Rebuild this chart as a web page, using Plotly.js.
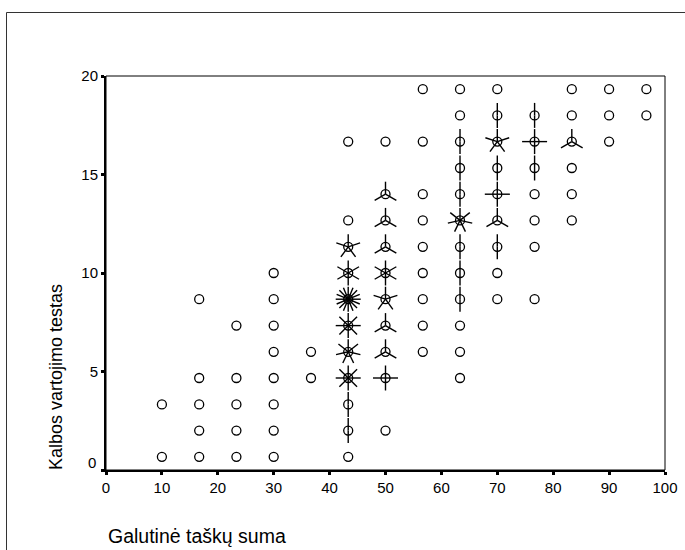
<!DOCTYPE html>
<html>
<head>
<meta charset="utf-8">
<script src="https://cdn.plot.ly/plotly-3.0.1.min.js"></script>
<style>html,body{margin:0;padding:0;background:#fff;}#chart{width:685px;height:550px;}</style>
</head>
<body>
<div id="chart"></div>
<script>
// Sunflower plot data: bin centres and number of observations in each bin
const pointX = [
  10, 10,
  16.67, 16.67, 16.67, 16.67, 16.67,
  23.33, 23.33, 23.33, 23.33, 23.33,
  30, 30, 30, 30, 30, 30, 30, 30,
  36.67, 36.67,
  43.33, 43.33, 43.33, 43.33, 43.33, 43.33, 43.33, 43.33, 43.33, 43.33, 43.33,
  50, 50, 50, 50, 50, 50, 50, 50, 50, 50,
  56.67, 56.67, 56.67, 56.67, 56.67, 56.67, 56.67, 56.67, 56.67,
  63.33, 63.33, 63.33, 63.33, 63.33, 63.33, 63.33, 63.33, 63.33, 63.33, 63.33, 63.33,
  70, 70, 70, 70, 70, 70, 70, 70, 70,
  76.67, 76.67, 76.67, 76.67, 76.67, 76.67, 76.67,
  83.33, 83.33, 83.33, 83.33, 83.33, 83.33,
  90, 90, 90,
  96.67, 96.67
];
const pointY = [
  0.67, 3.33,
  0.67, 2, 3.33, 4.67, 8.67,
  0.67, 2, 3.33, 4.67, 7.33,
  0.67, 2, 3.33, 4.67, 6, 7.33, 8.67, 10,
  4.67, 6,
  0.67, 2, 3.33, 4.67, 6, 7.33, 8.67, 10, 11.33, 12.67, 16.67,
  2, 4.67, 6, 7.33, 8.67, 10, 11.33, 12.67, 14, 16.67,
  6, 7.33, 8.67, 10, 11.33, 12.67, 14, 16.67, 19.33,
  4.67, 6, 7.33, 8.67, 10, 11.33, 12.67, 14, 15.33, 16.67, 18, 19.33,
  8.67, 10, 11.33, 12.67, 14, 15.33, 16.67, 18, 19.33,
  8.67, 11.33, 12.67, 14, 15.33, 16.67, 18,
  12.67, 14, 15.33, 16.67, 18, 19.33,
  16.67, 18, 19.33,
  18, 19.33
];
const pointCount = [
  1, 1,
  1, 1, 1, 1, 1,
  1, 1, 1, 1, 1,
  1, 1, 1, 1, 1, 1, 1, 1,
  1, 1,
  1, 2, 2, 8, 7, 8, 16, 6, 5, 1, 1,
  1, 4, 3, 3, 5, 6, 3, 3, 3, 1,
  1, 1, 1, 1, 1, 1, 1, 1, 1,
  1, 1, 1, 2, 2, 2, 7, 2, 2, 2, 1, 1,
  1, 1, 2, 3, 4, 2, 5, 2, 1,
  1, 1, 1, 1, 2, 4, 2,
  1, 1, 1, 3, 1, 1,
  1, 1, 1,
  1, 1
];
const xTickVals = [0, 10, 20, 30, 40, 50, 60, 70, 80, 90, 100];
const yTickVals = [0, 5, 10, 15, 20];
const yTickText = ['', '5', '10', '15', '20'];
const yZeroLabel = '0';
const xTitle = 'Galutinė taškų suma';
const yTitle = 'Kalbos vartojimo testas';

// layout geometry (style)
const W = 685, H = 550;
const M = {l: 106, r: 20, t: 76, b: 80};
const plotW = W - M.l - M.r, plotH = H - M.t - M.b;
const xRange = [0, 100], yRange = [0, 20];
const petalPx = 12.5;
const pxPerX = plotW / (xRange[1] - xRange[0]);
const pxPerY = plotH / (yRange[1] - yRange[0]);

// build petals (one line per observation when count > 1)
const petX = [], petY = [];
for (let i = 0; i < pointX.length; i++) {
  const n = pointCount[i];
  if (n < 2) continue;
  for (let k = 0; k < n; k++) {
    const a = 2 * Math.PI * k / n;
    petX.push(pointX[i], pointX[i] + petalPx * Math.sin(a) / pxPerX, null);
    petY.push(pointY[i], pointY[i] + petalPx * Math.cos(a) / pxPerY, null);
  }
}

const FONT = 'Liberation Sans, Arial, sans-serif';
const traces = [
  {type: 'scatter', mode: 'lines', x: petX, y: petY, hoverinfo: 'skip',
   line: {color: '#000', width: 1.4}, cliponaxis: false, showlegend: false},
  {type: 'scatter', mode: 'markers', x: pointX, y: pointY, cliponaxis: false,
   marker: {symbol: 'circle-open', size: 9, color: '#000', line: {width: 1.3, color: '#000'}},
   showlegend: false}
];

const px2paperX = p => (p - M.l) / plotW;
const px2paperY = p => (H - M.b - p) / plotH;

const layout = {
  width: W, height: H,
  margin: M,
  paper_bgcolor: '#fff', plot_bgcolor: '#fff',
  font: {family: FONT, size: 15, color: '#000'},
  showlegend: false,
  xaxis: {
    range: xRange, tickvals: xTickVals, showgrid: false, zeroline: false,
    showline: true, linecolor: '#000', linewidth: 2,
    ticks: 'outside', ticklen: 3, tickwidth: 3, tickcolor: '#000',
    tickfont: {family: FONT, size: 15, color: '#000'},
    title: {text: ''}
  },
  yaxis: {
    range: yRange, tickvals: yTickVals, ticktext: yTickText, showgrid: false, zeroline: false,
    showline: true, linecolor: '#000', linewidth: 2,
    ticks: 'outside', ticklen: 3, tickwidth: 3, tickcolor: '#000',
    tickfont: {family: FONT, size: 15, color: '#000'},
    title: {text: ''}
  },
  shapes: [
    {type: 'rect', xref: 'paper', yref: 'paper', x0: 0, x1: 1, y0: 0, y1: 1,
     line: {color: '#000', width: 1}},
    {type: 'path', xref: 'paper', yref: 'paper',
     path: 'M' + px2paperX(6.5) + ',' + px2paperY(H + 5) + ' L' + px2paperX(6.5) + ',' + px2paperY(12.5) +
           ' L' + px2paperX(W + 5) + ',' + px2paperY(12.5),
     line: {color: '#333', width: 1}}
  ],
  annotations: [
    {text: yZeroLabel, xref: 'paper', yref: 'y', x: px2paperX(98), y: yTickVals[0], yshift: 8,
     xanchor: 'right', yanchor: 'middle', showarrow: false,
     font: {family: FONT, size: 15, color: '#000'}},
    {text: xTitle, xref: 'paper', yref: 'paper', x: px2paperX(106), y: px2paperY(536),
     xanchor: 'left', yanchor: 'middle', showarrow: false,
     font: {family: FONT, size: 19.5, color: '#000'}},
    {text: yTitle, xref: 'paper', yref: 'paper', x: px2paperX(56), y: px2paperY(472),
     xanchor: 'center', yanchor: 'bottom', textangle: -90, showarrow: false,
     font: {family: FONT, size: 18, color: '#000'}}
  ]
};

Plotly.newPlot('chart', traces, layout, {staticPlot: true, displayModeBar: false});
</script>
</body>
</html>
